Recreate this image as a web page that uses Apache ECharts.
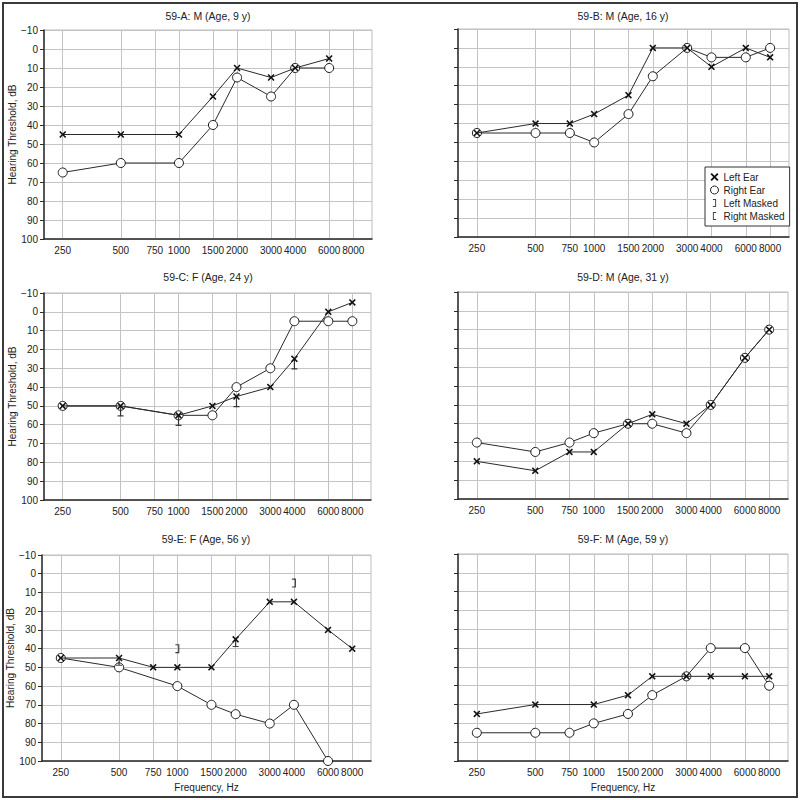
<!DOCTYPE html>
<html>
<head>
<meta charset="utf-8">
<script src="https://cdn.jsdelivr.net/npm/echarts@6/dist/echarts.min.js"></script>
<style>html,body{margin:0;padding:0;background:#fff}#c{width:800px;height:800px}</style>
</head>
<body>
<div id="c"></div>
<script>
// ---- data ----
const FREQ_TICKS = [250, 500, 750, 1000, 1500, 2000, 3000, 4000, 6000, 8000];
const ALL_FREQ = [250, 500, 750, 1000, 1500, 2000, 3000, 4000, 6000, 8000];
const PANEL_TITLES = ['59-A: M (Age, 9 y)', '59-B: M (Age, 16 y)', '59-C: F (Age, 24 y)',
  '59-D: M (Age, 31 y)', '59-E: F (Age, 56 y)', '59-F: M (Age, 59 y)'];

const A_FREQ = [250, 500, 1000, 1500, 2000, 3000, 4000, 6000];
const A_LEFT = [45, 45, 45, 25, 10, 15, 10, 5];
const A_RIGHT = [65, 60, 60, 40, 15, 25, 10, 10];

const B_FREQ = ALL_FREQ;
const B_LEFT = [45, 40, 40, 35, 25, 0, 0, 10, 0, 5];
const B_RIGHT = [45, 45, 45, 50, 35, 15, 0, 5, 5, 0];

const C_FREQ = [250, 500, 1000, 1500, 2000, 3000, 4000, 6000, 8000];
const C_LEFT = [50, 50, 55, 50, 45, 40, 25, 0, -5];
const C_RIGHT = [50, 50, 55, 55, 40, 30, 5, 5, 5];
const C_MASK_FREQ = [500, 1000, 2000, 4000];
const C_MASK = [53, 58, 48, 28];

const D_FREQ = ALL_FREQ;
const D_LEFT = [80, 85, 75, 75, 60, 55, 60, 50, 25, 10];
const D_RIGHT = [70, 75, 70, 65, 60, 60, 65, 50, 25, 10];

const E_LEFT_FREQ = ALL_FREQ;
const E_LEFT = [45, 45, 50, 50, 50, 35, 15, 15, 30, 40];
const E_RIGHT_FREQ = [250, 500, 1000, 1500, 2000, 3000, 4000, 6000];
const E_RIGHT = [45, 50, 60, 70, 75, 80, 70, 100];
const E_BRACKET_FREQ = [1000, 4000];
const E_BRACKET = [40, 5];
const E_STEM_FREQ = [500, 2000];
const E_STEM = [47, 37];

const F_LEFT_FREQ = [250, 500, 1000, 1500, 2000, 3000, 4000, 6000, 8000];
const F_LEFT = [75, 70, 70, 65, 55, 55, 55, 55, 55];
const F_RIGHT_FREQ = ALL_FREQ;
const F_RIGHT = [85, 85, 85, 80, 75, 65, 55, 40, 40, 60];

// ---- styling / layout ----
const FONT = '"Liberation Sans", Arial, sans-serif';
const INK = '#222';
const X_SYM = 'path://M0,1.6 L1.6,0 L5,3.4 L8.4,0 L10,1.6 L6.6,5 L10,8.4 L8.4,10 L5,6.6 L1.6,10 L0,8.4 L3.4,5 Z';
const BR_L = 'path://M0,0 L4,0 L4,10 L0,10 L0,8.8 L2.8,8.8 L2.8,1.2 L0,1.2 Z';
const BR_R = 'path://M0,0 L4,0 L4,1.2 L1.2,1.2 L1.2,8.8 L4,8.8 L4,10 L0,10 Z';
const STEM = 'path://M4.2,0 L5.8,0 L5.8,8.8 L9,8.8 L9,10 L1,10 L1,8.8 L4.2,8.8 Z';

const GRIDS = [
  {left: 44, top: 30, width: 328, height: 209},
  {left: 458, top: 29, width: 331, height: 208},
  {left: 44, top: 293, width: 327, height: 207},
  {left: 458, top: 292, width: 330, height: 207},
  {left: 42, top: 555, width: 329, height: 206},
  {left: 458, top: 554, width: 330, height: 207}
];

const zip = (f, v) => f.map((x, i) => [x, v[i]]);

const grid = GRIDS.map(g => Object.assign({show: true, borderColor: '#bdbdbd', borderWidth: 1,
  backgroundColor: '#fff', outerBoundsMode: 'none', containLabel: false}, g));

const xAxis = GRIDS.map((g, i) => ({
  type: 'log', logBase: 2, gridIndex: i, min: 200, max: 10000, position: 'bottom',
  name: i >= 4 ? 'Frequency, Hz' : '',
  nameLocation: 'middle', nameGap: 21,
  nameTextStyle: {fontFamily: FONT, fontSize: 10, color: INK},
  axisLine: {show: true, onZero: false, lineStyle: {color: '#2a2a2a', width: 1.5}},
  axisTick: {show: false, customValues: FREQ_TICKS},
  axisLabel: {customValues: FREQ_TICKS, margin: 6, fontFamily: FONT, fontSize: 10, color: INK,
    formatter: v => String(Math.round(v))},
  splitLine: {show: true, lineStyle: {color: '#c4c4c4', width: 1}},
  minorSplitLine: {show: false}
}));

const yAxis = GRIDS.map((g, i) => ({
  type: 'value', gridIndex: i, inverse: true, min: -10, max: 100, interval: 10,
  name: (i % 2 === 0) ? 'Hearing Threshold, dB' : '',
  nameLocation: 'middle', nameGap: 18,
  nameTextStyle: {fontFamily: FONT, fontSize: 10, color: INK},
  axisLine: {show: true, onZero: false, lineStyle: {color: '#2a2a2a', width: 1.5}},
  axisTick: {show: true, length: 4, lineStyle: {color: '#2a2a2a'}},
  axisLabel: {show: i % 2 === 0, margin: 6, fontFamily: FONT, fontSize: 10, color: INK,
    formatter: v => String(v).replace('-', '\u2212')},
  splitLine: {show: true, lineStyle: {color: '#c4c4c4', width: 1}}
}));

function rightSeries(i, f, v) {
  return {type: 'line', name: 'Right Ear', xAxisIndex: i, yAxisIndex: i, data: zip(f, v),
    symbol: 'circle', symbolSize: 9, clip: false, z: 3,
    lineStyle: {color: '#2a2a2a', width: 1},
    itemStyle: {color: '#fff', borderColor: '#1a1a1a', borderWidth: 1}};
}
function leftSeries(i, f, v) {
  return {type: 'line', name: 'Left Ear', xAxisIndex: i, yAxisIndex: i, data: zip(f, v),
    symbol: X_SYM, symbolSize: 7, clip: false, z: 4,
    lineStyle: {color: '#2a2a2a', width: 1},
    itemStyle: {color: '#111', borderWidth: 0}};
}
function maskSeries(i, name, f, v, sym, size) {
  return {type: 'scatter', name: name, xAxisIndex: i, yAxisIndex: i, data: zip(f, v),
    symbol: sym, symbolSize: size, clip: false, z: 5,
    itemStyle: {color: '#111', borderWidth: 0}};
}

const series = [
  rightSeries(0, A_FREQ, A_RIGHT), leftSeries(0, A_FREQ, A_LEFT),
  rightSeries(1, B_FREQ, B_RIGHT), leftSeries(1, B_FREQ, B_LEFT),
  maskSeries(1, 'Right Masked', [], [], BR_R, [4, 9]),
  rightSeries(2, C_FREQ, C_RIGHT), leftSeries(2, C_FREQ, C_LEFT),
  maskSeries(2, 'Left Masked', C_MASK_FREQ, C_MASK, STEM, [6, 10]),
  rightSeries(3, D_FREQ, D_RIGHT), leftSeries(3, D_FREQ, D_LEFT),
  rightSeries(4, E_RIGHT_FREQ, E_RIGHT), leftSeries(4, E_LEFT_FREQ, E_LEFT),
  maskSeries(4, 'Left Masked', E_BRACKET_FREQ, E_BRACKET, BR_L, [4, 9]),
  maskSeries(4, 'Left Masked', E_STEM_FREQ, E_STEM, STEM, [6, 8]),
  rightSeries(5, F_RIGHT_FREQ, F_RIGHT), leftSeries(5, F_LEFT_FREQ, F_LEFT)
];

const titlePos = [[208, 16], [623, 16], [208, 277], [623, 277], [206, 539], [623, 539]];
const graphic = titlePos.map((p, i) => ({
  type: 'text', x: p[0], y: p[1], z: 10,
  style: {text: PANEL_TITLES[i], fontFamily: FONT, fontSize: 10.5, fill: INK,
    textAlign: 'center', textVerticalAlign: 'middle'}
}));
graphic.push({type: 'rect', z: 10, shape: {x: 3, y: 3, width: 794, height: 794},
  style: {fill: 'none', stroke: '#3a3a3a', lineWidth: 2}});

const option = {
  animation: false,
  backgroundColor: '#fff',
  grid, xAxis, yAxis, series, graphic,
  legend: {
    left: 705, top: 167, orient: 'vertical', selectedMode: false,
    backgroundColor: '#fff', borderColor: '#333', borderWidth: 1,
    padding: [5, 5, 5, 5], itemGap: 3, itemWidth: 8, itemHeight: 8,
    textStyle: {fontFamily: FONT, fontSize: 10, color: INK},
    data: [
      {name: 'Left Ear', icon: X_SYM, itemStyle: {color: '#111', borderWidth: 0}},
      {name: 'Right Ear', icon: 'circle', itemStyle: {color: '#fff', borderColor: '#222', borderWidth: 1}},
      {name: 'Left Masked', icon: BR_L, itemStyle: {color: '#111', borderWidth: 0}},
      {name: 'Right Masked', icon: BR_R, itemStyle: {color: '#111', borderWidth: 0}}
    ]
  }
};

const chart = echarts.init(document.getElementById('c'), null, {renderer: 'svg'});
chart.setOption(option);
</script>
</body>
</html>
